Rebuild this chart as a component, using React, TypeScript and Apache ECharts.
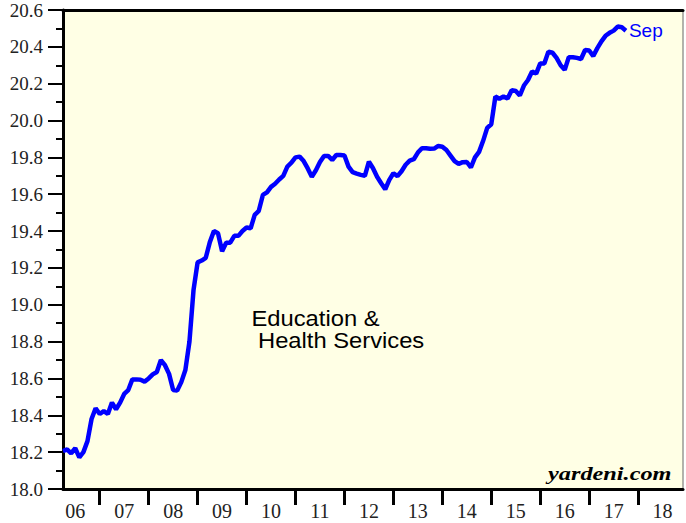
import React, { useEffect, useRef } from "react";
import * as echarts from "echarts";

// Monthly categories for the x axis (Apr 2006 .. Dec 2018)
const startYear = 2006;
const startMonth = 4;
const months: string[] = [];
for (let y = startYear, m = startMonth; y < 2019; ) {
  months.push(`${y}-${String(m).padStart(2, "0")}`);
  m++;
  if (m > 12) { m = 1; y++; }
}

// Education & Health Services values (last point = Sep 2017)
const values: number[] = [
  18.206, 18.215, 18.194, 18.221, 18.172, 18.2, 18.26, 18.38, 18.438, 18.407,
  18.423, 18.407, 18.469, 18.433, 18.469, 18.516, 18.537, 18.595, 18.595, 18.593,
  18.583, 18.6, 18.622, 18.635, 18.7, 18.672, 18.625, 18.537, 18.534, 18.58,
  18.646, 18.8, 19.08, 19.23, 19.24, 19.255, 19.34, 19.4, 19.388, 19.29,
  19.337, 19.337, 19.374, 19.374, 19.4, 19.419, 19.415, 19.488, 19.51, 19.596,
  19.61, 19.64, 19.657, 19.68, 19.7, 19.75, 19.771, 19.8, 19.804, 19.78,
  19.74, 19.695, 19.73, 19.775, 19.808, 19.808, 19.786, 19.813, 19.813, 19.81,
  19.75, 19.72, 19.712, 19.705, 19.7, 19.777, 19.741, 19.695, 19.66, 19.627,
  19.678, 19.714, 19.698, 19.725, 19.76, 19.782, 19.79, 19.826, 19.85, 19.85,
  19.847, 19.848, 19.862, 19.858, 19.84, 19.81, 19.78, 19.765, 19.774, 19.775,
  19.745, 19.8, 19.83, 19.89, 19.96, 19.98, 20.13, 20.118, 20.13, 20.12,
  20.165, 20.16, 20.136, 20.19, 20.22, 20.266, 20.255, 20.31, 20.31, 20.374,
  20.368, 20.34, 20.3, 20.275, 20.344, 20.344, 20.34, 20.334, 20.383, 20.38,
  20.35, 20.393, 20.43, 20.46, 20.476, 20.488, 20.51, 20.506, 20.488,
];

const yMin = 18.0;
const yMax = 20.6;
const yStep = 0.2;
const endLabelText = "Sep";
const titleLine1 = "Education &";
const titleLine2 = "Health Services";
const sourceText = "yardeni.com";

export default function App() {
  const ref = useRef<HTMLDivElement>(null);
  useEffect(() => {
    if (!ref.current) return;
    const chart = echarts.init(ref.current, undefined, { renderer: "svg" });
    const serif = "'Liberation Serif', 'Times New Roman', serif";
    const sans = "'Liberation Sans', Arial, sans-serif";
    chart.setOption({
      animation: false,
      backgroundColor: "#ffffff",
      grid: {
        left: 63,
        top: 10,
        right: 3,
        bottom: 34,
        show: true,
        backgroundColor: "#FFFFE5",
        borderColor: "#666",
        borderWidth: 1,
      },
      xAxis: [
        {
          type: "category",
          data: months,
          boundaryGap: false,
          axisLine: { show: true, lineStyle: { color: "#000", width: 3 } },
          axisTick: {
            show: true,
            length: 16,
            inside: false,
            lineStyle: { color: "#000", width: 3 },
            interval: (_i: number, v: string) => v.endsWith("-01"),
          },
          axisLabel: {
            show: true,
            interval: (_i: number, v: string) => v.endsWith("-07"),
            formatter: (v: string) => v.slice(2, 4),
            fontFamily: serif,
            fontSize: 20,
            color: "#222",
            margin: 12,
          },
          splitLine: { show: false },
        },
        {
          type: "category",
          data: months,
          boundaryGap: false,
          position: "top",
          axisLine: { show: true, lineStyle: { color: "#000", width: 3 } },
          axisTick: { show: false },
          axisLabel: { show: false },
          splitLine: { show: false },
        },
      ],
      yAxis: {
        type: "value",
        min: yMin,
        max: yMax,
        interval: yStep,
        axisLine: { show: true, lineStyle: { color: "#000", width: 3 } },
        axisTick: { show: true, length: 15, lineStyle: { color: "#000", width: 2 } },
        minorTick: { show: true, splitNumber: 2, length: 7, lineStyle: { color: "#000", width: 2 } },
        axisLabel: {
          formatter: (v: number) => v.toFixed(1),
          fontFamily: serif,
          fontSize: 19,
          color: "#222",
          margin: 20,
        },
        splitLine: { show: false },
      },
      series: [
        {
          type: "line",
          data: values,
          showSymbol: false,
          lineStyle: { color: "#0000FF", width: 4.5 },
          itemStyle: { color: "#0000FF" },
          endLabel: {
            show: true,
            formatter: endLabelText,
            color: "#0000FF",
            fontFamily: sans,
            fontSize: 19,
            distance: 3,
          },
        },
      ],
      graphic: [
        {
          type: "text",
          x: 251.5,
          y: 318.4,
          scaleX: 1.08,
          style: {
            text: titleLine1,
            fill: "#000",
            font: `22px ${sans}`,
            verticalAlign: "middle",
            align: "left",
          },
        },
        {
          type: "text",
          x: 258,
          y: 340.2,
          scaleX: 1.08,
          style: {
            text: titleLine2,
            fill: "#000",
            font: `22px ${sans}`,
            verticalAlign: "middle",
            align: "left",
          },
        },
        {
          type: "text",
          x: 548,
          y: 474.5,
          scaleX: 1.35,
          style: {
            text: sourceText,
            fill: "#000",
            font: `italic bold 18px ${serif}`,
            verticalAlign: "middle",
            align: "left",
          },
        },
      ],
    });
    return () => chart.dispose();
  }, []);
  return (
    <div
      ref={ref}
      style={{ position: "fixed", left: 0, top: 0, width: 686, height: 523 }}
    />
  );
}
